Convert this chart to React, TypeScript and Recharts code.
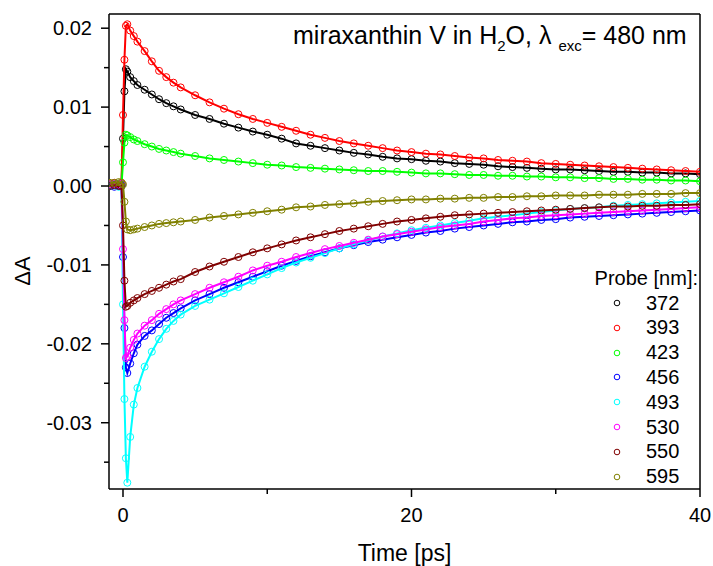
import { ScatterChart, Scatter, XAxis, YAxis, ReferenceLine, Label } from "recharts";

// time points [ps]
const TIMES = [
  -0.9, -0.6, -0.3, -0.1,
  0, 0.1, 0.2, 0.3, 0.5, 0.75, 1, 1.5, 2, 2.5, 3, 3.5,
  4, 5, 6, 7, 8, 9, 10, 11, 12, 13, 14, 15, 16, 17, 18, 19, 20,
  21, 22, 23, 24, 25, 26, 27, 28, 29, 30, 31, 32, 33, 34, 35, 36, 37, 38, 39, 40,
];

// ΔA per probe wavelength
const P372 = [
  0.0001, 0.0002, 0.0001, 0.0002,
  0.006, 0.012, 0.0148, 0.0145, 0.0138, 0.0133, 0.0128, 0.0122, 0.0116, 0.011, 0.0105, 0.0101,
  0.0097, 0.009, 0.0085, 0.0079, 0.0074, 0.0069, 0.0065, 0.006, 0.0054, 0.0051, 0.0048, 0.0045, 0.0042, 0.004, 0.0037, 0.0035, 0.0034,
  0.0032, 0.0031, 0.0029, 0.0028, 0.0027, 0.0025, 0.0024, 0.0023, 0.0022, 0.0021, 0.0021, 0.002, 0.0019, 0.0018, 0.0018, 0.0017, 0.0017, 0.0016, 0.0016, 0.0015,
];
const P393 = [
  0.0003, 0.0004, 0.0003, 0.0004,
  0.009, 0.016, 0.0203, 0.0205, 0.0197, 0.019, 0.0183, 0.0171, 0.0158, 0.0146, 0.0138, 0.0131,
  0.0125, 0.0115, 0.0106, 0.0098, 0.0091, 0.0085, 0.008, 0.0075, 0.007, 0.0065, 0.0061, 0.0057, 0.0054, 0.0051, 0.0048, 0.0045, 0.0043,
  0.0041, 0.004, 0.0038, 0.0036, 0.0035, 0.0033, 0.0032, 0.0031, 0.0029, 0.0028, 0.0027, 0.0026, 0.0025, 0.0024, 0.0023, 0.0022, 0.0021, 0.002, 0.0019, 0.0018,
];
const P423 = [
  0.0002, 0.0002, 0.0003, 0.0002,
  0.003, 0.0055, 0.0065, 0.0064, 0.0062, 0.0059, 0.0057, 0.0053, 0.005, 0.0047, 0.0045, 0.0043,
  0.0041, 0.0038, 0.0035, 0.0033, 0.0031, 0.0029, 0.0027, 0.0026, 0.0024, 0.0023, 0.0022, 0.0021, 0.002, 0.0019, 0.0019, 0.0018, 0.0017,
  0.0016, 0.0016, 0.0015, 0.0014, 0.0014, 0.0013, 0.0013, 0.0012, 0.0012, 0.0011, 0.0011, 0.001, 0.001, 0.0009, 0.0009, 0.0008, 0.0008, 0.0007, 0.0007, 0.0006,
];
const P456 = [
  0, -0.0001, 0, 0.0001,
  -0.009, -0.018, -0.023, -0.0237, -0.0225, -0.0212, -0.0201, -0.019, -0.0183, -0.0175, -0.0167, -0.0161,
  -0.0155, -0.0145, -0.0137, -0.0129, -0.0122, -0.0115, -0.0108, -0.0101, -0.0095, -0.0089, -0.0084, -0.0079, -0.0075, -0.0071, -0.0068, -0.0065, -0.0062,
  -0.0059, -0.0057, -0.0054, -0.0052, -0.005, -0.0048, -0.0046, -0.0045, -0.0043, -0.0042, -0.004, -0.0039, -0.0038, -0.0037, -0.0036, -0.0035, -0.0034, -0.0033, -0.0032, -0.0031,
];
const P493 = [
  0, 0.0001, -0.0001, 0,
  -0.015, -0.027, -0.0345, -0.0376, -0.0318, -0.0277, -0.0256, -0.0229, -0.021, -0.0194, -0.0181, -0.0171,
  -0.0163, -0.0152, -0.0144, -0.0136, -0.0128, -0.012, -0.0112, -0.0104, -0.0097, -0.0091, -0.0085, -0.0079, -0.0074, -0.0069, -0.0064, -0.006, -0.0056,
  -0.0053, -0.005, -0.0047, -0.0044, -0.0041, -0.0039, -0.0037, -0.0035, -0.0033, -0.0031, -0.0029, -0.0028, -0.0027, -0.0025, -0.0024, -0.0023, -0.0022, -0.0021, -0.002, -0.0019,
];
const P530 = [
  0.0002, 0.0003, 0.0002, 0.0003,
  -0.008, -0.017, -0.0218, -0.0216, -0.0205, -0.0195, -0.0187, -0.0177, -0.017, -0.0162, -0.0156, -0.015,
  -0.0145, -0.0137, -0.0129, -0.0122, -0.0115, -0.0107, -0.0101, -0.0096, -0.009, -0.0085, -0.008, -0.0076, -0.0072, -0.0068, -0.0064, -0.0061, -0.0058,
  -0.0055, -0.0052, -0.005, -0.0048, -0.0045, -0.0043, -0.0041, -0.004, -0.0038, -0.0037, -0.0036, -0.0035, -0.0034, -0.0033, -0.0032, -0.0031, -0.003, -0.0029, -0.0028, -0.0027,
];
const P550 = [
  0, 0.0001, 0, 0,
  -0.005, -0.012, -0.0153, -0.0152, -0.0148, -0.0145, -0.0142, -0.0137, -0.0133, -0.0129, -0.0125, -0.0121,
  -0.0118, -0.0109, -0.0102, -0.0096, -0.009, -0.0084, -0.0079, -0.0074, -0.0069, -0.0065, -0.0061, -0.0057, -0.0054, -0.0051, -0.0048, -0.0045, -0.0043,
  -0.0041, -0.0039, -0.0037, -0.0036, -0.0035, -0.0034, -0.0033, -0.0032, -0.0031, -0.003, -0.0029, -0.0028, -0.0027, -0.0026, -0.0026, -0.0025, -0.0025, -0.0024, -0.0024, -0.0023,
];
const P595 = [
  0.0004, 0.0004, 0.0005, 0.0004,
  0.0002, -0.002, -0.0045, -0.0055, -0.0056, -0.0055, -0.0054, -0.0052, -0.005, -0.0048, -0.0047, -0.0046,
  -0.0045, -0.0043, -0.004, -0.0038, -0.0036, -0.0034, -0.0032, -0.003, -0.0027, -0.0026, -0.0024, -0.0023, -0.0022, -0.002, -0.0019, -0.0018, -0.0017,
  -0.0017, -0.0016, -0.0016, -0.0015, -0.0015, -0.0014, -0.0014, -0.0013, -0.0013, -0.0012, -0.0012, -0.0012, -0.0011, -0.0011, -0.0011, -0.001, -0.001, -0.001, -0.0009, -0.0009,
];

const SERIES = [
  { name: "372", color: "#000000", values: P372 },
  { name: "393", color: "#ff0000", values: P393 },
  { name: "423", color: "#00ff00", values: P423 },
  { name: "456", color: "#0000ff", values: P456 },
  { name: "493", color: "#00ffff", values: P493 },
  { name: "530", color: "#ff00ff", values: P530 },
  { name: "550", color: "#800000", values: P550 },
  { name: "595", color: "#808000", values: P595 },
];

const X_MIN = -0.97;
const X_MAX = 40;
const Y_MIN = -0.0384;
const Y_MAX = 0.0218;
const X_TICKS = [0, 10, 20, 30, 40];
const Y_TICKS = [-0.035, -0.03, -0.025, -0.02, -0.015, -0.01, -0.005, 0, 0.005, 0.01, 0.015, 0.02];

const FONT = "'Liberation Sans', Arial, Helvetica, sans-serif";

function XTick(props: any) {
  const { x, y, payload } = props;
  const v = payload.value;
  const major = v % 20 === 0;
  const axisY = y - 12;
  return (
    <g>
      <line x1={x} x2={x} y1={axisY} y2={axisY + (major ? 8 : 5)} stroke="#000" strokeWidth={1.5} />
      {major && (
        <text x={x} y={y} dy={21} textAnchor="middle" fontSize={20} fontFamily={FONT} fill="#000">
          {v}
        </text>
      )}
    </g>
  );
}

function YTick(props: any) {
  const { x, y, payload } = props;
  const v = payload.value;
  const major = Math.abs(v * 100 - Math.round(v * 100)) < 1e-6;
  const axisX = x + 17;
  return (
    <g>
      <line x1={axisX - (major ? 8 : 5)} x2={axisX} y1={y} y2={y} stroke="#000" strokeWidth={1.5} />
      {major && (
        <text x={x} y={y} dy={7} textAnchor="end" fontSize={20} fontFamily={FONT} fill="#000">
          {v.toFixed(2)}
        </text>
      )}
    </g>
  );
}

const ring = (color: string) => (p: any) => (
  <circle cx={p.cx} cy={p.cy} r={3.5} fill="none" stroke={color} strokeWidth={1} />
);

export default function App() {
  return (
    <div style={{ position: "absolute", left: 0, top: 0, width: 713, height: 566, background: "#fff", fontFamily: FONT }}>
      <ScatterChart width={713} height={566} margin={{ top: 14, right: 13, left: 0, bottom: 7 }}>
        <XAxis
          type="number" dataKey="t" domain={[X_MIN, X_MAX]} ticks={X_TICKS} allowDataOverflow
          height={70} tickSize={8} tickMargin={4} tickLine={false} tick={<XTick />}
          axisLine={{ stroke: "#000", strokeWidth: 1.5 }}
        >
          <Label
            content={(p: any) => (
              <text x={p.viewBox.x + p.viewBox.width / 2} y={561} textAnchor="middle" fontSize={23} fontFamily={FONT} fill="#000">
                Time [ps]
              </text>
            )}
          />
        </XAxis>
        <YAxis
          type="number" dataKey="v" domain={[Y_MIN, Y_MAX]} ticks={Y_TICKS} allowDataOverflow
          width={109} tickSize={8} tickMargin={9} tickLine={false} tick={<YTick />}
          axisLine={{ stroke: "#000", strokeWidth: 1.5 }}
        >
          <Label
            content={() => (
              <text x={30} y={271} transform="rotate(-90 30 271)" textAnchor="middle" fontSize={22} fontFamily={FONT} fill="#000">
                ΔA
              </text>
            )}
          />
        </YAxis>
        <ReferenceLine y={Y_MAX} stroke="#000" strokeWidth={1.5} />
        <ReferenceLine x={X_MAX} stroke="#000" strokeWidth={1.5} />
        {SERIES.map((s) => (
          <Scatter
            key={s.name}
            name={s.name}
            data={TIMES.map((t, i) => ({ t, v: s.values[i] }))}
            line={{ stroke: s.color, strokeWidth: 2 }}
            shape={ring(s.color)}
            isAnimationActive={false}
          />
        ))}
      </ScatterChart>

      <div style={{ position: "absolute", left: 293, top: 23, fontSize: 25, lineHeight: "25px", whiteSpace: "nowrap", color: "#000" }}>
        miraxanthin V in H<span style={{ fontSize: 15, position: "relative", top: 7 }}>2</span>O, λ{" "}
        <span style={{ fontSize: 15, position: "relative", top: 7 }}>exc</span>= 480 nm
      </div>

      <div style={{ position: "absolute", right: 15, top: 267, fontSize: 20, lineHeight: "22px", color: "#000" }}>
        Probe [nm]:
      </div>
      {SERIES.map((s, i) => (
        <div key={s.name} style={{ position: "absolute", left: 612, top: 292 + i * 24.8, height: 22, display: "flex", alignItems: "center", fontSize: 20, color: "#000" }}>
          <svg width={10} height={10} style={{ marginRight: 24 }}>
            <circle cx={5} cy={5} r={2.8} fill="none" stroke={s.color} strokeWidth={1} />
          </svg>
          <span>{s.name}</span>
        </div>
      ))}
    </div>
  );
}
